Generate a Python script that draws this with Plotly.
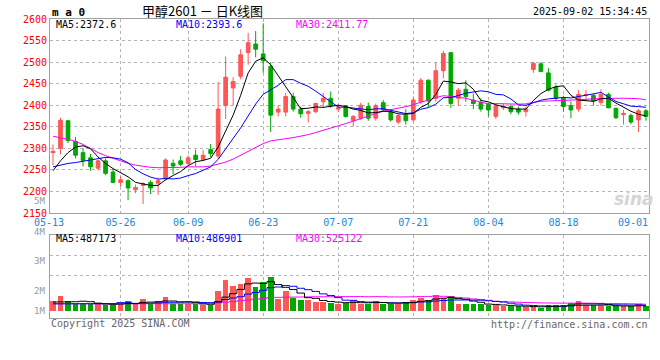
import plotly.graph_objects as go

# ---------------- data ----------------
day_index = list(range(80))
grid_index = [9, 18, 28, 38, 48, 58, 68]
grid_labels = ["05-26", "06-09", "06-23", "07-07", "07-21", "08-04", "08-18"]
edge_labels = [(0, "05-13"), (78, "09-01")]

opens = [2290, 2300, 2364, 2316, 2290, 2278, 2254, 2271, 2245, 2221,
         2225, 2204, 2214, 2221, 2219, 2229, 2265, 2271, 2265, 2284,
         2274, 2297, 2282, 2399, 2440, 2467, 2522, 2542, 2519, 2490,
         2384, 2384, 2420, 2391, 2381, 2385, 2408, 2416, 2391, 2399,
         2364, 2370, 2397, 2370, 2406, 2385, 2361, 2377, 2366, 2408,
         2458, 2416, 2480, 2522, 2416, 2437, 2412, 2406, 2402, 2374,
         2394, 2397, 2391, 2385, 2483, 2496, 2475, 2442, 2416, 2399,
         2391, 2423, 2423, 2406, 2425, 2393, 2378, 2376, 2366, 2387]
highs = [2309, 2371, 2365, 2326, 2301, 2287, 2273, 2277, 2253, 2236,
         2228, 2216, 2221, 2226, 2232, 2277, 2274, 2282, 2284, 2297,
         2296, 2310, 2454, 2513, 2465, 2530, 2568, 2572, 2590, 2500,
         2400, 2429, 2429, 2397, 2389, 2406, 2429, 2432, 2402, 2400,
         2377, 2406, 2406, 2404, 2412, 2391, 2379, 2391, 2420, 2463,
         2460, 2500, 2526, 2523, 2440, 2458, 2427, 2416, 2406, 2402,
         2404, 2402, 2397, 2397, 2501, 2500, 2486, 2448, 2422, 2409,
         2435, 2435, 2427, 2437, 2429, 2394, 2389, 2381, 2391, 2391]
lows = [2261, 2286, 2312, 2277, 2258, 2248, 2249, 2238, 2219, 2211,
        2180, 2196, 2171, 2194, 2192, 2226, 2240, 2259, 2263, 2259,
        2270, 2280, 2276, 2368, 2399, 2460, 2494, 2511, 2475, 2338,
        2374, 2374, 2385, 2371, 2360, 2381, 2394, 2394, 2385, 2371,
        2351, 2366, 2364, 2364, 2385, 2362, 2356, 2355, 2362, 2402,
        2395, 2408, 2462, 2394, 2399, 2408, 2391, 2385, 2374, 2368,
        2389, 2379, 2378, 2374, 2475, 2478, 2432, 2410, 2385, 2370,
        2385, 2410, 2399, 2399, 2393, 2368, 2355, 2356, 2338, 2364]
closes = [2293, 2365, 2318, 2284, 2272, 2257, 2271, 2242, 2221, 2227,
          2208, 2209, 2218, 2208, 2225, 2273, 2259, 2263, 2278, 2274,
          2284, 2288, 2391, 2465, 2455, 2517, 2545, 2530, 2503, 2377,
          2391, 2420, 2391, 2380, 2385, 2404, 2416, 2399, 2394, 2374,
          2374, 2400, 2370, 2399, 2389, 2366, 2376, 2364, 2412, 2458,
          2410, 2480, 2520, 2404, 2435, 2420, 2404, 2391, 2389, 2399,
          2398, 2385, 2384, 2391, 2497, 2478, 2435, 2416, 2397, 2389,
          2425, 2425, 2410, 2425, 2394, 2371, 2381, 2361, 2387, 2374]

ma5 = [2248, 2271, 2290, 2303, 2306, 2299, 2280, 2265, 2253, 2244,
       2234, 2221, 2217, 2214, 2214, 2227, 2237, 2246, 2260, 2269,
       2272, 2277, 2303, 2340, 2377, 2423, 2475, 2502, 2510, 2494,
       2469, 2444, 2416, 2392, 2393, 2396, 2395, 2397, 2400, 2397,
       2391, 2388, 2382, 2383, 2386, 2385, 2380, 2379, 2381, 2395,
       2404, 2425, 2456, 2454, 2450, 2452, 2437, 2411, 2408, 2401,
       2396, 2392, 2391, 2391, 2411, 2427, 2437, 2443, 2445, 2423,
       2412, 2410, 2409, 2415, 2416, 2405, 2396, 2386, 2379, 2375]
ma10 = [2257, 2261, 2265, 2267, 2270, 2274, 2277, 2279, 2278, 2275,
        2266.5, 2250.9, 2240.9, 2233.3, 2228.6, 2230.2, 2229, 2231.1, 2236.8, 2241.5,
        2249.1, 2257, 2274.3, 2300, 2323, 2347.4, 2376, 2402.7, 2425.2, 2435.5,
        2446.2, 2459.4, 2459.4, 2450.9, 2443.9, 2432.6, 2419.7, 2406.6, 2395.7, 2395.4,
        2393.7, 2391.7, 2389.6, 2391.5, 2391.9, 2388.1, 2384.1, 2380.6, 2382.4, 2390.8,
        2394.4, 2402.4, 2417.4, 2417.9, 2422.5, 2427.9, 2430.7, 2433.4, 2431.1, 2425.2,
        2424, 2414.5, 2400.9, 2399.6, 2405.8, 2411.6, 2414.7, 2417.2, 2418, 2417,
        2419.7, 2423.7, 2426.3, 2429.7, 2419.4, 2408.7, 2403.3, 2397.8, 2396.8, 2395.3]
ma30 = [2328, 2325, 2321, 2316, 2309, 2300, 2290, 2283, 2277, 2271,
        2265, 2261, 2258, 2256, 2255, 2255, 2256, 2256, 2257, 2257,
        2257, 2259, 2263, 2268, 2275, 2284, 2294, 2303, 2311, 2317.3,
        2320.6, 2322.4, 2324.9, 2328.1, 2331.8, 2336.7, 2341.6, 2346.8, 2352.6, 2357.5,
        2363, 2369.4, 2374.4, 2380.8, 2386.3, 2389.4, 2393.3, 2396.6, 2401.1, 2407.2,
        2411.4, 2417.8, 2422.1, 2420.1, 2419.4, 2416.2, 2411.5, 2406.9, 2403.1, 2403.8,
        2404, 2402.9, 2402.6, 2403, 2406.7, 2409.2, 2409.8, 2410.4, 2410.5, 2411,
        2412.7, 2413.5, 2414.9, 2415.7, 2415.9, 2416.1, 2416.2, 2416.1, 2415.3, 2412.5]

volume = [870, 1320, 870, 660, 660, 660, 660, 510, 510, 750,
          870, 660, 1050, 660, 870, 1230, 660, 660, 660, 660,
          510, 510, 1770, 2760, 2220, 2400, 3000, 2130, 2580, 3030,
          1100, 1770, 1170, 960, 960, 810, 810, 720, 660, 720,
          960, 660, 660, 870, 660, 660, 660, 810, 960, 1200,
          960, 1410, 1200, 1320, 660, 660, 600, 660, 510, 510,
          420, 420, 420, 360, 360, 300, 510, 510, 510, 720,
          900, 510, 510, 510, 420, 420, 420, 420, 660, 420]  # thousands
vol_ma5 = [800, 810, 820, 830, 876, 834, 702, 630, 600, 618,
           660, 660, 768, 798, 822, 894, 894, 816, 816, 774,
           630, 600, 822, 1242, 1554, 1932, 2430, 2502, 2466, 2628,
           2368, 2122, 1930, 1606, 1192, 1134, 942, 852, 792, 744,
           774, 744, 732, 774, 762, 702, 702, 732, 750, 858,
           918, 1068, 1146, 1218, 1110, 1050, 888, 780, 618, 588,
           540, 504, 456, 426, 396, 372, 390, 408, 438, 510,
           630, 630, 630, 630, 570, 474, 456, 438, 468, 468]
vol_ma10 = [640, 640, 640, 645, 650, 650, 650, 650, 650, 747,
            747, 681, 699, 699, 720, 777, 777, 792, 807, 798,
            762, 747, 819, 1029, 1164, 1281, 1515, 1662, 1854, 2091,
            2150, 2276, 2216, 2036, 1910, 1751, 1532, 1391, 1199, 968,
            954, 843, 792, 783, 753, 738, 723, 732, 762, 810,
            810, 885, 939, 984, 984, 984, 978, 963, 918, 849,
            795, 696, 618, 522, 492, 456, 447, 432, 432, 453,
            501, 510, 519, 534, 540, 552, 543, 534, 549, 519]
vol_ma30 = [650, 650, 650, 650, 650, 650, 650, 650, 650, 650,
            650, 650, 650, 650, 650, 650, 650, 650, 650, 655,
            665, 680, 730, 790, 860, 920, 990, 1060, 1130, 1212,
            1220, 1235, 1245, 1255, 1265, 1270, 1275, 1282, 1287, 1286,
            1289, 1289, 1276, 1283, 1276, 1257, 1257, 1262, 1272, 1290,
            1305, 1335, 1316, 1268, 1216, 1158, 1078, 1029, 960, 876,
            853, 808, 783, 763, 743, 726, 716, 709, 704, 704,
            702, 697, 692, 680, 672, 664, 656, 643, 633, 607]

price_ticks = list(range(2150, 2601, 50))

# ---------------- styling ----------------
RED = "#FF5656"
GREEN = "#00A800"
MONO = "DejaVu Sans Mono"
CJK = "Noto Sans CJK SC"
GRID = "#b4b4b4"
FRAME = "#a0a0a0"
DATEBLUE = "#1A88DD"

FW, FH = 660, 360
# plot area in page pixels
PX0, PX1, PY0, PY1 = 50, 649, 19, 318
ML, MR = PX0, FW - PX1
MT, MB = PY0, FH - PY1


def px_x(px):
    return (px - PX0) / (PX1 - PX0)


def px_y(py):
    return (PY1 - py) / (PY1 - PY0)


vol_units = [v * 1000 for v in volume]
vma5 = [v * 1000 for v in vol_ma5]
vma10 = [v * 1000 for v in vol_ma10]
vma30 = [v * 1000 for v in vol_ma30]
bar_colors = [RED if c >= o else GREEN for o, c in zip(opens, closes)]

fig = go.Figure()
fig.add_trace(go.Candlestick(
    x=day_index, open=opens, high=highs, low=lows, close=closes,
    increasing=dict(line=dict(color=RED, width=1), fillcolor=RED),
    decreasing=dict(line=dict(color=GREEN, width=1), fillcolor=GREEN),
    whiskerwidth=0, showlegend=False, hoverinfo="skip", xaxis="x", yaxis="y"))
for series, col in [(ma30, "#FF00FF"), (ma10, "#0000FF"), (ma5, "#000000")]:
    fig.add_trace(go.Scatter(x=day_index, y=series, mode="lines",
                             line=dict(color=col, width=1), showlegend=False,
                             hoverinfo="skip", xaxis="x", yaxis="y"))

fig.add_trace(go.Bar(x=day_index, y=vol_units, marker=dict(color=bar_colors, line=dict(width=0)),
                     width=0.75, showlegend=False, hoverinfo="skip", xaxis="x2", yaxis="y2"))
for series, col in [(vma30, "#FF00FF"), (vma10, "#0000FF"), (vma5, "#000000")]:
    fig.add_trace(go.Scatter(x=day_index, y=series, mode="lines", line_shape="hvh",
                             line=dict(color=col, width=1), showlegend=False,
                             hoverinfo="skip", xaxis="x2", yaxis="y2"))

main_bottom = px_y(213)
vol_top = px_y(234.7)

# volume scale: 90k per pixel, bars from zero at y=310.7
k = 90000
vol_range = [-(317.7 - 310.7) * k, (310.7 - 234.7) * k]
vol_grid = [(310.7 - 275.2) * k, (310.7 - 255.4) * k]

axis_common = dict(showline=True, mirror=True, linecolor=FRAME, linewidth=1,
                   showgrid=True, gridcolor=GRID, griddash="dot", gridwidth=1,
                   zeroline=False, ticks="", fixedrange=True, automargin=False)

fig.update_layout(
    width=FW, height=FH, margin=dict(l=ML, r=MR, t=MT, b=MB, autoexpand=False),
    paper_bgcolor="white", plot_bgcolor="white", hovermode=False,
    bargap=0,
    xaxis=dict(domain=[0, 1], range=[-0.4, 79.4], anchor="y",
               tickvals=grid_index, ticktext=grid_labels,
               tickfont=dict(family=MONO, size=10, color=DATEBLUE),
               rangeslider=dict(visible=False), **axis_common),
    yaxis=dict(domain=[main_bottom, 1], range=[2150, 2600], anchor="x",
               tickvals=price_ticks, ticktext=[str(t) for t in price_ticks],
               tickfont=dict(family=MONO, size=10, color="#FF0000"), **axis_common),
    xaxis2=dict(domain=[0, 1], range=[-0.4, 79.4], anchor="y2",
                tickvals=grid_index, showticklabels=False, **axis_common),
    yaxis2=dict(domain=[0, vol_top], range=vol_range, anchor="x2",
                tickvals=vol_grid, showticklabels=False, **axis_common),
)

ann = []


def text(s, x, y, color="#000", size=10, family=MONO, xanchor="left", bold=False):
    ann.append(dict(text=("<b>%s</b>" % s) if bold else s,
                    x=px_x(x), y=px_y(y), xref="paper", yref="paper",
                    xanchor=xanchor, yanchor="middle", showarrow=False,
                    font=dict(family=family, size=size, color=color)))


text("m a 0", 50, 12.5, size=11, bold=True)
text("甲醇2601 － 日K线图", 140, 10, size=13, family=CJK)
text("2025-09-02 15:34:45", 649, 11.5, xanchor="right")
text("MA5:2372.6", 54, 24.5)
text("MA10:2393.6", 174, 24.5, color="#0000FF")
text("MA30:2411.77", 294, 24.5, color="#FF00FF")
text("MA5:487173", 54, 238.5)
text("MA10:486901", 174, 238.5, color="#0000FF")
text("MA30:525122", 294, 238.5, color="#FF00FF")
text("Copyright 2025 SINA.COM", 49, 323.5, color="#666666")
text("http://finance.sina.com.cn", 650, 324, color="#666666", xanchor="right")
for lab, yy in [("5M", 201), ("4M", 231.5), ("3M", 260.7), ("2M", 290.7), ("1M", 310.7)]:
    text(lab, 47, yy, color="#999999", size=9, xanchor="right")
for idx, lab in edge_labels:
    ann.append(dict(text=lab, x=idx, y=px_y(222), xref="x", yref="paper",
                    xanchor="center", yanchor="middle", showarrow=False,
                    xshift=-4 if idx == 0 else -5,
                    font=dict(family=MONO, size=10, color=DATEBLUE)))
text("<i>sina</i>", 634, 199, color="#d4d4d4", size=17, family="DejaVu Sans", xanchor="center", bold=True)

fig.update_layout(annotations=ann)
# remove the browser's default 8px body margin so the figure sits at the page origin
fig.write_html("out.html", config={"displayModeBar": False, "staticPlot": True},
               post_script="document.body.style.margin='0px';")
